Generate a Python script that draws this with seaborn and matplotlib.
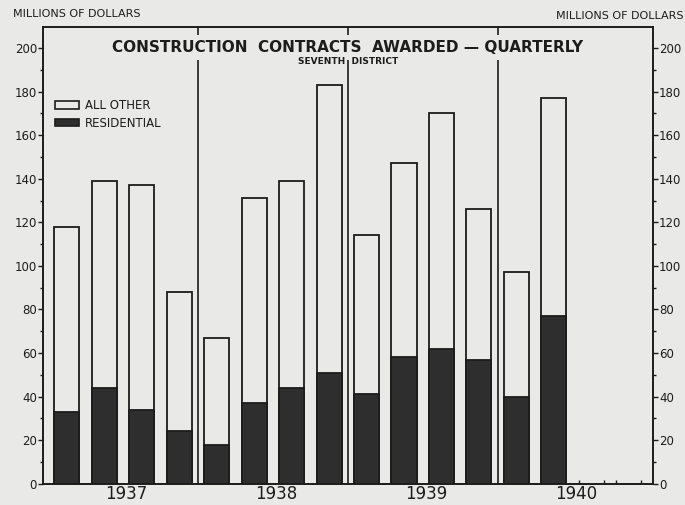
import pandas as pd
import matplotlib.pyplot as plt
import seaborn as sns
from matplotlib.patches import Patch
from matplotlib.ticker import MultipleLocator

# quarterly construction contracts awarded, seventh district (millions of dollars)
quarters = ['1937 Q1', '1937 Q2', '1937 Q3', '1937 Q4',
            '1938 Q1', '1938 Q2', '1938 Q3', '1938 Q4',
            '1939 Q1', '1939 Q2', '1939 Q3', '1939 Q4',
            '1940 Q1', '1940 Q2']
total_awards = [118, 139, 137, 88, 67, 131, 139, 183, 114, 147, 170, 126, 97, 177]
residential = [33, 44, 34, 24, 18, 37, 44, 51, 41, 58, 62, 57, 40, 77]
years = ['1937', '1938', '1939', '1940']
legend_labels = ['ALL OTHER', 'RESIDENTIAL']

df = pd.DataFrame({'quarter': quarters, 'total': total_awards, 'residential': residential})
df['year'] = df['quarter'].str[:4]
df['pos'] = range(len(df))

paper = '#e9e9e7'
ink = '#1c1c1c'
dark = '#2e2e2e'

sns.set_style('ticks')
plt.rcParams['font.family'] = ['DejaVu Sans']
plt.rcParams['axes.edgecolor'] = ink
plt.rcParams['xtick.color'] = ink
plt.rcParams['ytick.color'] = ink
plt.rcParams['text.color'] = ink

fig = plt.figure(figsize=(6.85, 5.05), dpi=100, facecolor=paper)
ax = fig.add_axes([0.063, 0.042, 0.890, 0.904])
ax.set_facecolor(paper)

bar_w = 0.67
sns.barplot(data=df, x='quarter', y='total', color=paper, saturation=1,
            edgecolor=ink, linewidth=1.3, width=bar_w, ax=ax, zorder=2)
sns.barplot(data=df, x='quarter', y='residential', color=dark, saturation=1,
            edgecolor=ink, linewidth=1.3, width=bar_w, ax=ax, zorder=3)

ymax = 209.5
ax.set_xlim(-0.63, 15.64)
ax.set_ylim(0, ymax)
ax.set_xlabel('')
ax.set_ylabel('')

# year separators
last_pos = df.groupby('year')['pos'].max()
for yr in years[:-1]:
    ax.axvline(last_pos[yr] + 0.5, color=ink, lw=1.2, zorder=1)

# year labels centred on the four quarter slots of each year
first_pos = df.groupby('year')['pos'].min()
ax.set_xticks([first_pos[y] + 1.6 for y in years])
ax.set_xticklabels(years, fontsize=12)
ax.tick_params(axis='x', length=0, pad=1)

# small marks for the quarters still to come
future = [len(quarters), len(quarters) + 1]
ax.set_xticks([p + s * bar_w / 2 for p in future for s in (-1, 1)], minor=True)
ax.tick_params(axis='x', which='minor', direction='in', length=3, width=1)

ax.yaxis.set_major_locator(MultipleLocator(20))
ax.yaxis.set_minor_locator(MultipleLocator(10))
ax.tick_params(axis='y', which='major', length=3.5, width=1, pad=1, labelsize=8.5)
ax.tick_params(axis='y', which='minor', length=2.5, width=1)

ax2 = ax.twinx()
ax2.set_ylim(0, ymax)
ax2.yaxis.set_major_locator(MultipleLocator(20))
ax2.yaxis.set_minor_locator(MultipleLocator(10))
ax2.tick_params(axis='y', which='major', length=3.5, width=1, pad=1, labelsize=8.5)
ax2.tick_params(axis='y', which='minor', length=2.5, width=1)

for a in (ax, ax2):
    for s in a.spines.values():
        s.set_visible(True)
        s.set_linewidth(1.2)

ax.text(0.5, 0.956, 'CONSTRUCTION  CONTRACTS  AWARDED \u2014 QUARTERLY',
        transform=ax.transAxes, ha='center', va='center', fontsize=11,
        fontweight='bold', zorder=6,
        bbox=dict(boxstyle='square,pad=0.35', facecolor=paper, edgecolor='none'))
ax.text(0.5, 0.925, 'SEVENTH  DISTRICT', transform=ax.transAxes, ha='center',
        va='center', fontsize=6.5, fontweight='bold', zorder=6)

handles = [Patch(facecolor=paper, edgecolor=ink, linewidth=1.2),
           Patch(facecolor=dark, edgecolor=ink, linewidth=1.2)]
ax.legend(handles, legend_labels, loc='upper left', bbox_to_anchor=(0.02, 0.842),
          frameon=False, fontsize=8.5, borderaxespad=0, borderpad=0,
          handlelength=2.0, handleheight=0.6, handletextpad=0.5, labelspacing=0.35)

fig.text(0.019, 0.972, 'MILLIONS OF DOLLARS', ha='left', va='center', fontsize=8)
fig.text(0.998, 0.968, 'MILLIONS OF DOLLARS', ha='right', va='center', fontsize=8)

fig.savefig('out.png', dpi=100, facecolor=paper)
